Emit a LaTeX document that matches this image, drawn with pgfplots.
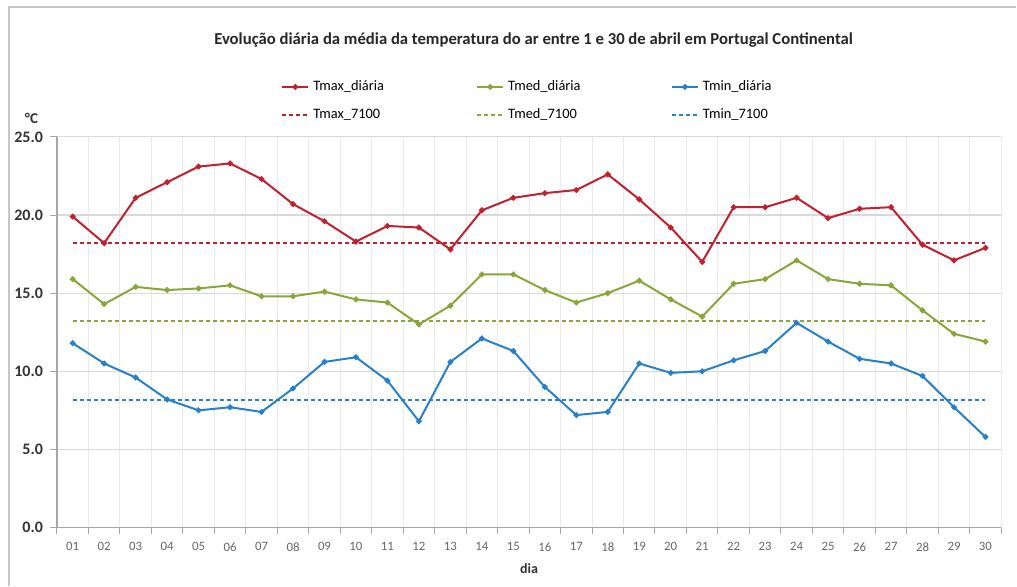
\documentclass[border=0pt]{standalone}
\usepackage{fontspec}
\setmainfont{Carlito}
\usepackage{pgfplots}
\usepackage{pgfplotstable}
\pgfplotsset{compat=1.18}
\definecolor{cmax}{RGB}{192,32,48}
\definecolor{cmed}{RGB}{138,165,58}
\definecolor{cmin}{RGB}{40,128,200}
\definecolor{gridc}{RGB}{217,217,217}
\definecolor{vgridc}{RGB}{234,234,234}
\definecolor{axc}{RGB}{166,166,166}
\pgfplotstableread{
day tmax tmed tmin
1 19.9 15.9 11.8
2 18.2 14.3 10.5
3 21.1 15.4 9.6
4 22.1 15.2 8.2
5 23.1 15.3 7.5
6 23.3 15.5 7.7
7 22.3 14.8 7.4
8 20.7 14.8 8.9
9 19.6 15.1 10.6
10 18.3 14.6 10.9
11 19.3 14.4 9.4
12 19.2 13.0 6.8
13 17.8 14.2 10.6
14 20.3 16.2 12.1
15 21.1 16.2 11.3
16 21.4 15.2 9.0
17 21.6 14.4 7.2
18 22.6 15.0 7.4
19 21.0 15.8 10.5
20 19.2 14.6 9.9
21 17.0 13.5 10.0
22 20.5 15.6 10.7
23 20.5 15.9 11.3
24 21.1 17.1 13.1
25 19.8 15.9 11.9
26 20.4 15.6 10.8
27 20.5 15.5 10.5
28 18.1 13.9 9.7
29 17.1 12.4 7.7
30 17.9 11.9 5.8
}\datatable
\begin{document}
\begin{tikzpicture}
\path (0,0) rectangle (508.5pt,293pt);
\draw[gray!45, line width=0.8pt] (4.5pt,0) -- (4.5pt,289.5pt) -- (508.5pt,289.5pt);
\node[font=\bfseries\fontsize{8.35}{10}\selectfont, text=black!85] at (267pt,273pt) {Evolução diária da média da temperatura do ar entre 1 e 30 de abril em Portugal Continental};
\begin{axis}[
  at={(28.5pt,29pt)}, anchor=south west,
  scale only axis, width=472.5pt, height=195.5pt,
  xmin=0.5, xmax=30.5, ymin=0, ymax=25,
  axis lines=left, axis line style={-, draw=axc, line width=0.6pt},
  tick align=outside,
  xtick={1,...,30},
  xticklabels={01,02,03,04,05,06,07,08,09,10,11,12,13,14,15,16,17,18,19,20,21,22,23,24,25,26,27,28,29,30},
  major x tick style={draw=none},
  minor xtick={0.5,1.5,...,30.5},
  minor tick length=3pt,
  minor x tick style={draw=axc, line width=0.5pt},
  xminorgrids=true,
  minor x grid style={draw=vgridc, line width=0.5pt},
  ytick={0,5,...,25},
  yticklabels={0.0,5.0,10.0,15.0,20.0,25.0},
  ymajorgrids=true,
  major y grid style={draw=gridc, line width=0.6pt},
  major tick length=3.5pt,
  y tick style={draw=axc, line width=0.5pt},
  xticklabel style={font=\fontsize{6.4}{7}\selectfont, text=black!60, yshift=-0.5pt},
  yticklabel style={font=\bfseries\fontsize{8}{9}\selectfont, text=black!80},
  xlabel={dia},
  xlabel style={at={(axis description cs:0.5,-0.106)}, anchor=center, font=\bfseries\fontsize{7}{8}\selectfont, text=black!80},
  ylabel={°C},
  ylabel style={at={(axis description cs:-0.027,1.0486)}, rotate=-90, anchor=center, font=\bfseries\fontsize{7.5}{8}\selectfont, text=black!80},
  legend columns=3,
  legend cell align=left,
  legend style={draw=none, fill=none, at={(0.2372,1.0920)}, anchor=west, inner sep=0pt,
    font=\fontsize{7.2}{8}\selectfont, row sep=3.5pt,
    /tikz/every even column/.append style={column sep=39.5pt}},
  legend image code/.code={\draw[mark repeat=2,mark phase=2,#1] plot coordinates {(0pt,0pt) (6.5pt,0pt) (13pt,0pt)};},
]
\addplot[cmax, line width=1pt, mark=*, mark size=0.9pt] table[x=day,y=tmax] {\datatable};
\addlegendentry{\makebox[40pt][l]{Tmax\_diária}}
\addplot[cmed, line width=1pt, mark=*, mark size=0.9pt] table[x=day,y=tmed] {\datatable};
\addlegendentry{\makebox[40pt][l]{Tmed\_diária}}
\addplot[cmin, line width=1pt, mark=*, mark size=0.9pt] table[x=day,y=tmin] {\datatable};
\addlegendentry{\makebox[40pt][l]{Tmin\_diária}}
\addplot[cmax, line width=0.9pt, dash pattern=on 2pt off 1.5pt] coordinates {(1,18.2) (30,18.2)};
\addlegendentry{\makebox[40pt][l]{Tmax\_7100}}
\addplot[cmed, line width=0.9pt, dash pattern=on 2pt off 1.5pt] coordinates {(1,13.2) (30,13.2)};
\addlegendentry{\makebox[40pt][l]{Tmed\_7100}}
\addplot[cmin, line width=0.9pt, dash pattern=on 2pt off 1.5pt] coordinates {(1,8.15) (30,8.15)};
\addlegendentry{\makebox[40pt][l]{Tmin\_7100}}
\end{axis}
\end{tikzpicture}
\end{document}
